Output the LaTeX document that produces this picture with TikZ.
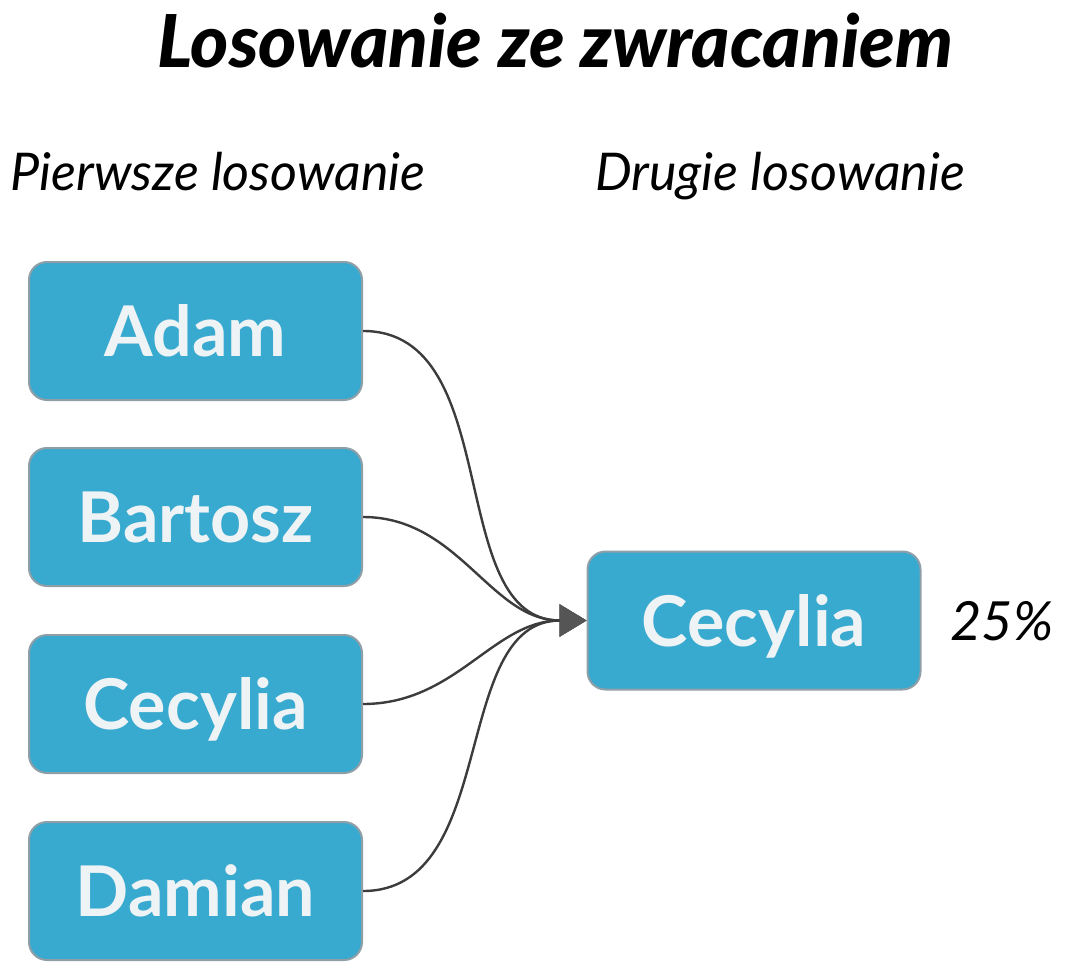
\documentclass[tikz,border=0pt]{standalone}
\usepackage{fontspec}
\setmainfont{Lato}
\newfontfamily\titlefont{Lato Black Italic}
\newfontfamily\boxfont{Lato Bold}
\newfontfamily\subfont{Lato Italic}
\usetikzlibrary{arrows.meta}
\definecolor{boxblue}{HTML}{38A9CF}
\definecolor{boxrim}{HTML}{8E9FA8}
\definecolor{boxtext}{HTML}{EEF3F5}
\definecolor{linkgray}{HTML}{3C3C3C}
\definecolor{tipgray}{HTML}{555555}

\begin{document}
\begin{tikzpicture}[x=1pt,y=-1pt,
  person/.style={draw=boxrim, line width=2pt, fill=boxblue, rounded corners=18pt,
    minimum width=333pt, minimum height=138pt, inner sep=0pt,
    text=boxtext, font=\boxfont\fontsize{70}{70}\selectfont,
    text height=51pt, text depth=0pt},
  link/.style={draw=linkgray, line width=2.4pt,
    -{Triangle[length=27pt,width=32pt,color=tipgray]}}]
\useasboundingbox (0,0) rectangle (1086,976);

% title and column heads
\node[anchor=base, font=\titlefont\fontsize{73}{73}\selectfont] (title) at (555,68) {Losowanie ze zwracaniem};
\node[anchor=base, font=\subfont\fontsize{52}{52}\selectfont] (first) at (218,191) {Pierwsze losowanie};
\node[anchor=base, font=\subfont\fontsize{52}{52}\selectfont] (second) at (780,191) {Drugie losowanie};

% first draw
\node[person] (adam) at (195.5,331) {Adam};
\node[person] (bartosz) at (195.5,517) {Bartosz};
\node[person] (cecylia) at (195.5,704) {Cecylia};
\node[person] (damian) at (195.5,891) {Damian};

% second draw
\node[person] (pick) at (754,620.5) {Cecylia};
\node[anchor=base, font=\subfont\fontsize{54}{54}\selectfont] (odds) at (1002,640) {25\%};

\draw[link] (adam.east) to[out=0,in=180] (pick.west);
\draw[link] (bartosz.east) to[out=0,in=180] (pick.west);
\draw[link] (cecylia.east) to[out=0,in=180] (pick.west);
\draw[link] (damian.east) to[out=0,in=180] (pick.west);
\end{tikzpicture}
\end{document}
